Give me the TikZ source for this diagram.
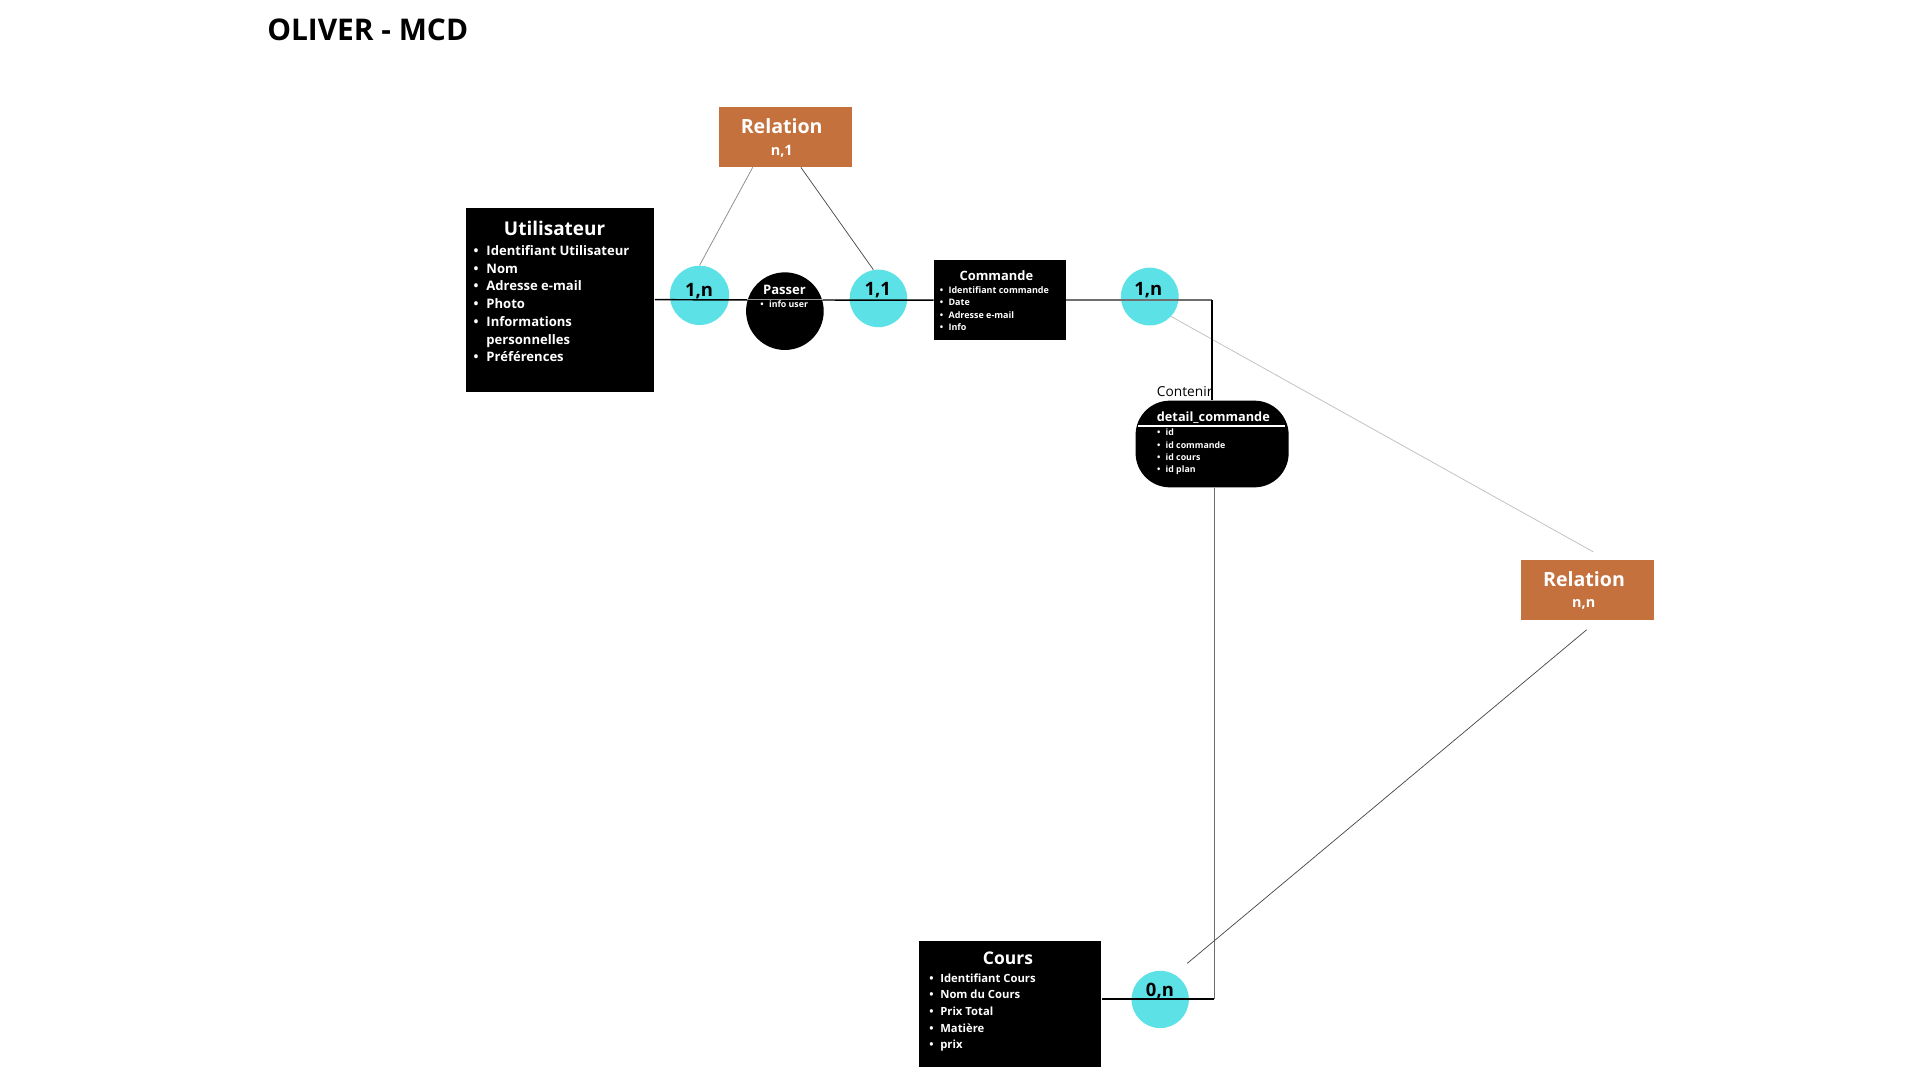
\documentclass[tikz,border=0pt]{standalone}
\usepackage{fontspec}
\setmainfont{Open Sans}
\usetikzlibrary{calc}
\definecolor{relorange}{HTML}{C4713E}
\definecolor{cardcyan}{HTML}{5CE1E6}
\definecolor{linegray}{HTML}{6E6E6E}
\definecolor{lightline}{HTML}{C4C4C4}
\definecolor{midline}{HTML}{8A8A8A}
\definecolor{darkline}{HTML}{4A4A4A}
\newlength\ux \setlength\ux{0.75pt}
\newcommand\fsz[2]{\fontsize{#1pt}{#2pt}\selectfont}
\newcommand\bul{\leavevmode\llap{\textbullet\hspace{0.6em}}}
\tikzset{
  entity/.style={rectangle, fill=black, draw=none, inner sep=0},
  relbox/.style={rectangle, fill=relorange, draw=none, inner sep=0},
  card/.style={circle, fill=cardcyan, draw=none, inner sep=0},
  wtxt/.style={text=white, inner sep=0, anchor=base},
  ctxt/.style={text=black, inner sep=0, anchor=base, font=\bfseries\fsz{11.3}{13}},
  itemlist/.style={text=white, inner sep=0, anchor=base west},
  link/.style={draw=black, line width=0.9pt},
  graylink/.style={draw=linegray, line width=0.9pt},
  thinlink/.style={draw=darkline, line width=0.45pt},
  midlink/.style={draw=midline, line width=0.45pt},
  faintlink/.style={draw=lightline, line width=0.5pt},
}
\begin{document}
\begin{tikzpicture}[x=0.75pt, y=-0.75pt]
\useasboundingbox[fill=white] (0,0) rectangle (1568,882);

% title
\node[anchor=base west, inner sep=0, font=\bfseries\fsz{18.3}{22}] (title) at (218,33) {OLIVER - MCD};

% shapes
\node[relbox, minimum width=108.3\ux, minimum height=49.3\ux] (reln1) at (641.45,111.75) {};
\node[relbox, minimum width=108.7\ux, minimum height=49\ux] (relnn) at (1296.45,481.8) {};
\node[entity, minimum width=154.3\ux, minimum height=150.3\ux] (utl) at (457.35,244.75) {};
\node[entity, minimum width=107.9\ux, minimum height=65.1\ux] (cmd) at (816.65,245.15) {};
\node[entity, minimum width=148.6\ux, minimum height=103.1\ux] (cours) at (825.1,820.05) {};
\node[entity, rounded corners=28\ux, minimum width=125\ux, minimum height=70.8\ux] (det) at (989.9,362.6) {};
\node[circle, fill=black, inner sep=0, minimum size=63.4\ux] (passer) at (641,254.1) {};
\node[card, minimum size=48.4\ux] (c1n) at (571.3,241.2) {};
\node[card, minimum size=47\ux] (c11) at (717.4,243.7) {};
\node[card, minimum size=47.2\ux] (c1nb) at (939,242.2) {};
\node[card, minimum size=46.8\ux] (c0n) at (947.5,816.2) {};

% connectors
\draw[link] (utl.east) -- (cmd.west);
\draw[graylink] (cmd.east) -- (cmd.east -| det.north);
\coordinate (k2) at (991.7,815.8);
\draw[graylink] (det.south -| k2) -- (k2);
\draw[link] (k2) -- (k2 -| cours.east);
\draw[midlink] ($(reln1.south)+(-26.75,0)$) -- (c1n.north);
\draw[thinlink] ($(reln1.south)+(12.6,0)$) -- (c11.100);
\draw[faintlink] (c1nb.-43) -- ($(relnn.north)+(4.8,-6.3)$);
\draw[thinlink] ($(relnn.south)+(-0.65,7.7)$) -- ($(c0n.center)+(22.1,-29.5)$);

% separators inside shapes
\draw[white, line width=0.8pt] (929.6,347.9) -- (1049.4,347.9);
\draw[white, opacity=0.6, line width=0.6pt] (609.8,244.2) -- (672.2,244.2);

% texts
\node[wtxt, font=\bfseries\fsz{12}{14}] (reln1t) at (638.4,108.9) {Relation};
\node[wtxt, font=\bfseries\fsz{8.8}{10}] (reln1c) at (638.4,126.6) {n,1};
\node[wtxt, font=\bfseries\fsz{12}{14}] (relnnt) at (1293.6,478.6) {Relation};
\node[wtxt, font=\bfseries\fsz{8.8}{10}] (relnnc) at (1293.4,496.3) {n,n};

\node[wtxt, font=\bfseries\fsz{11.6}{14}] (utlt) at (452.9,192.7) {Utilisateur};
\node[itemlist] (utli) at (397,208.5) {\parbox[t]{150\ux}{\bfseries\fsz{8}{10.875}\raggedright
\bul Identifiant Utilisateur\\
\bul Nom\\
\bul Adresse e-mail\\
\bul Photo\\
\bul Informations\\
personnelles\\
\bul Préférences}};

\node[wtxt, font=\bfseries\fsz{7.9}{9}] (cmdt) at (813.7,228.7) {Commande};
\node[itemlist] (cmdi) at (774.4,239.3) {\parbox[t]{100\ux}{\bfseries\fsz{5.5}{7.7}\raggedright
\bul Identifiant commande\\
\bul Date\\
\bul Adresse e-mail\\
\bul Info}};

\node[wtxt, font=\bfseries\fsz{8}{9}] (passert) at (640.6,240.1) {Passer};
\node[itemlist, font=\bfseries\fsz{5.4}{7}] (passeri) at (627.8,251.3) {\bul info user};

\node[anchor=base west, inner sep=0, text=black, font=\fsz{8.4}{10}] (cont) at (944.6,324.2) {Contenir};
\draw[link] (cmd.east -| det.north) -- (det.north);

\node[wtxt, font=\bfseries\fsz{7.8}{9}] (dett) at (990.9,344.4) {detail\_commande};
\node[itemlist] (deti) at (951.7,355.8) {\parbox[t]{100\ux}{\bfseries\fsz{5.4}{7.55}\raggedright
\bul id\\
\bul id commande\\
\bul id cours\\
\bul id plan}};

\node[wtxt, font=\bfseries\fsz{10.7}{12}] (courst) at (823.2,787.3) {Cours};
\node[itemlist] (coursi) at (767.7,802.2) {\parbox[t]{130\ux}{\bfseries\fsz{6.9}{10.16}\raggedright
\bul Identifiant Cours\\
\bul Nom du Cours\\
\bul Prix Total\\
\bul Matière\\
\bul prix}};

\node[ctxt] (c1nt) at (570.9,242.3) {1,n};
\node[ctxt] (c11t) at (716.8,241) {1,1};
\node[ctxt] (c1nbt) at (937.8,241.7) {1,n};
\node[ctxt] (c0nt) at (947.3,814) {0,n};
\end{tikzpicture}
\end{document}
